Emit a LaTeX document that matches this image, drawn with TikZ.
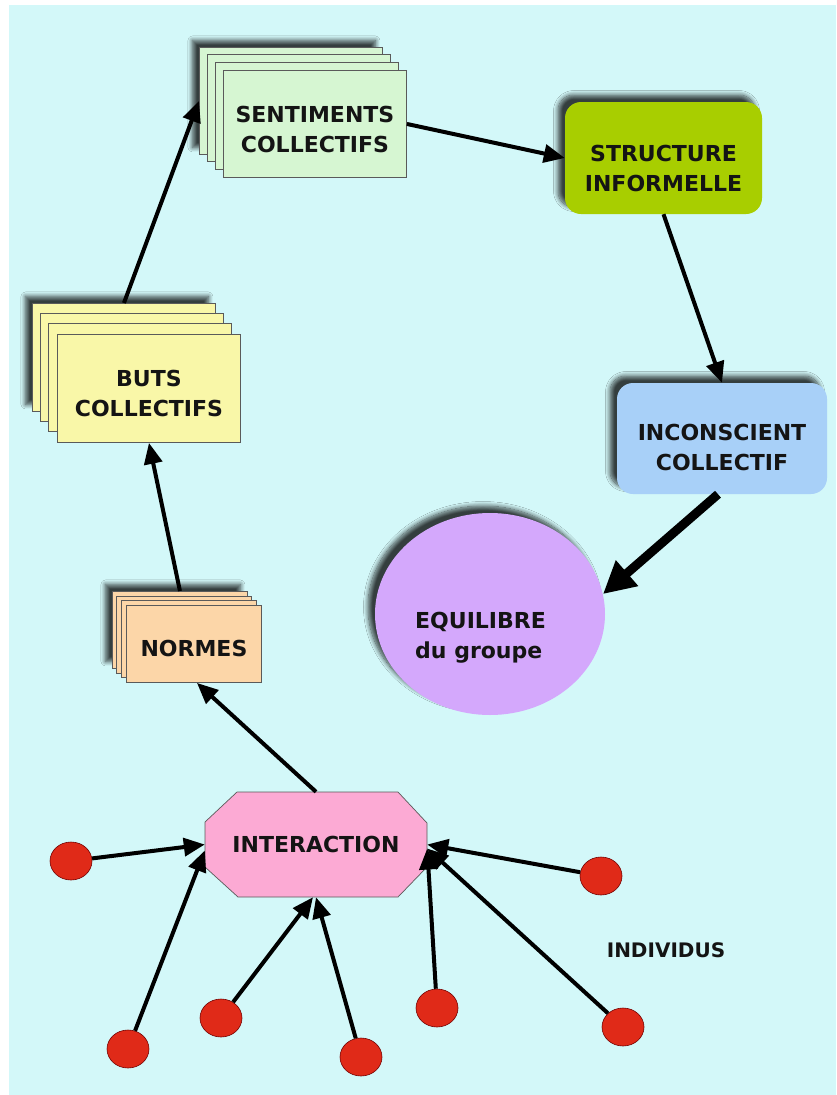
\documentclass[tikz,border=0pt]{standalone}
\usepackage{fontspec}
\setmainfont{DejaVu Sans}
\usetikzlibrary{arrows.meta,shapes.geometric,shadows.blur}
\definecolor{bgc}{HTML}{D3F8F9}
\definecolor{sentc}{HTML}{D6F6D2}
\definecolor{butc}{HTML}{F9F7A8}
\definecolor{normc}{HTML}{FCD6A8}
\definecolor{structc}{HTML}{A8CE00}
\definecolor{inconc}{HTML}{A8D0F8}
\definecolor{eqc}{HTML}{D4A8FC}
\definecolor{interc}{HTML}{FCAAD4}
\definecolor{dotc}{HTML}{E02A18}
\definecolor{edgec}{HTML}{5A5A5A}
\begin{document}
\begin{tikzpicture}[x=1pt,y=-1pt,
  txt/.style={font=\fontsize{22}{30}\selectfont\bfseries, align=center, text=black!92},
  lay/.style={draw=edgec, line width=0.9pt, anchor=north west, inner sep=0pt, minimum width=183pt, minimum height=107pt},
  nlay/.style={draw=edgec, line width=0.9pt, anchor=north west, inner sep=0pt, minimum width=135pt, minimum height=77pt},
  rbox/.style={rounded corners=16pt, inner sep=0pt},
  shad/.style={blur shadow={shadow xshift=-7pt, shadow yshift=7pt, shadow blur radius=4.5pt, shadow blur steps=10, shadow opacity=75}},
  arr/.style={line width=4pt, -{Triangle[length=21pt,width=18pt]}},
  arrbig/.style={line width=9pt, -{Triangle[length=32pt,width=32pt]}},
  dot/.style={ellipse, draw=red!45!black, line width=0.6pt, fill=dotc, minimum width=42pt, minimum height=38pt, inner sep=0pt}
]
\useasboundingbox (0,0) rectangle (836,1095);
\fill[bgc] (9,5) rectangle (836,1095);

% SENTIMENTS stack
\node[lay, fill=sentc, shad] (Sb) at (199,47) {};
\node[lay, fill=sentc] (S2) at (207,54) {};
\node[lay, fill=sentc] (S3) at (215,62) {};
\node[lay, fill=sentc] (S) at (223,70) {};
\node[txt] (St1) at ([yshift=-6pt]S.center) {SENTIMENTS\\COLLECTIFS};

% BUTS stack
\node[lay, fill=butc, shad, minimum height=108pt] (Bb) at (32,303) {};
\node[lay, fill=butc, minimum height=108pt] (B2) at (40,313) {};
\node[lay, fill=butc, minimum height=108pt] (B3) at (48,323) {};
\node[lay, fill=butc, minimum height=108pt] (B) at (57,334) {};
\node[txt] (Bt) at ([yshift=-5pt]B.center) {BUTS\\COLLECTIFS};

% NORMES stack
\node[nlay, fill=normc, shad] (Nb) at (112,591) {};
\node[nlay, fill=normc] (N2) at (116,596) {};
\node[nlay, fill=normc] (N3) at (121,600) {};
\node[nlay, fill=normc] (N) at (126,605) {};
\node[txt] (Nt) at ([yshift=-5pt]N.center) {NORMES};

% STRUCTURE
\node[rbox, fill=structc, shad, minimum width=197pt, minimum height=112pt] (St) at (663.5,158) {};
\node[txt] (Stt) at ([yshift=-10pt]St.center) {STRUCTURE\\INFORMELLE};

% INCONSCIENT
\node[rbox, fill=inconc, shad, minimum width=210pt, minimum height=111pt] (Ic) at (722,438.5) {};
\node[txt] (Ict) at ([yshift=-9pt]Ic.center) {INCONSCIENT\\COLLECTIF};

% EQUILIBRE
\node[ellipse, fill=eqc, shad, minimum width=230pt, minimum height=202pt, inner sep=0pt] (E) at (490,614) {};
\node[txt, align=left, anchor=north west, inner sep=0pt] (Et) at (415,612) {EQUILIBRE\\du groupe};

% INTERACTION octagon
\draw[fill=interc, draw=edgec, line width=0.7pt] (237,792) -- (398,792) -- (427,823) -- (427,867) -- (398,897) -- (238,897) -- (205,867) -- (205,822) -- cycle;
\node[txt, minimum width=222pt, minimum height=105pt, inner sep=0pt] (I) at (316,844.5) {INTERACTION};

% INDIVIDUS
\node[font=\fontsize{20}{24}\selectfont\bfseries, text=black!92] (ind) at (666,950) {INDIVIDUS};

% dots
\node[dot] (d1) at (71,861) {};
\node[dot] (d2) at (128,1049) {};
\node[dot] (d3) at (221,1018) {};
\node[dot] (d4) at (361,1057) {};
\node[dot] (d5) at (437,1008) {};
\node[dot] (d6) at (601,876) {};
\node[dot] (d7) at (623,1027) {};

% main cycle
\draw[arr] (I.north) -- ([xshift=3pt]N.south);
\draw[arr] (Nb.north) -- (B.south);
\draw[arr] (Bb.north) -- (Sb.west);
\draw[arr] (S.east) -- (St.west);
\draw[arr] (St.south) -- (Ic.north);
\draw[arrbig] ([xshift=-4pt]Ic.south) -- (E.10);

% individuals
\draw[arr] (d1) -- (I.west);
\draw[arr] (d2) -- ([yshift=-6pt]I.west);
\draw[arr] (d3) -- ([xshift=-3pt]I.south);
\draw[arr] (d4) -- (I.south);
\draw[arr] (d5) -- ([yshift=-4pt]I.east);
\draw[arr] (d6) -- (I.east);
\draw[arr] (d7) -- ([yshift=-4pt]I.east);
\end{tikzpicture}
\end{document}
